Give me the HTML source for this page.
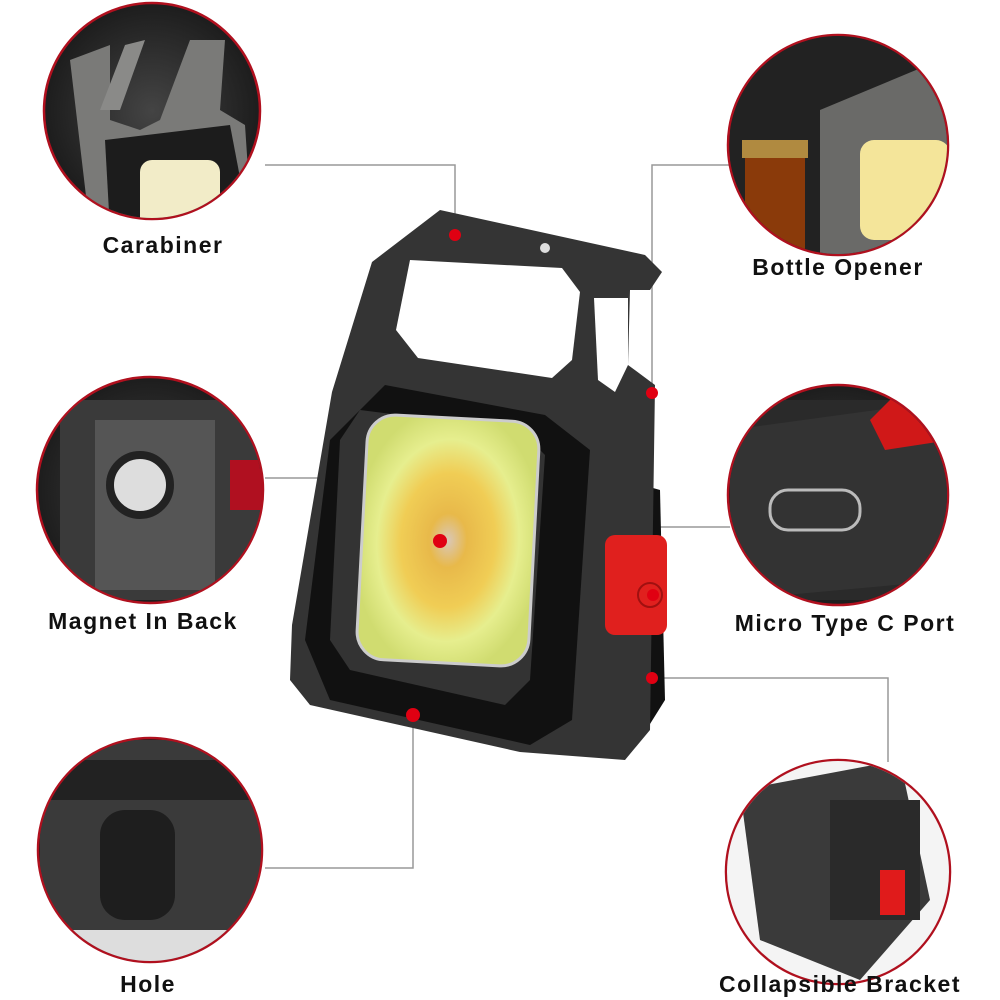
<!DOCTYPE html>
<html><head><style>
body{margin:0;width:1000px;height:1000px;background:#fff;overflow:hidden;position:relative;font-family:"Liberation Sans",sans-serif}
.l{position:absolute;font-size:23px;font-weight:bold;letter-spacing:1.5px;color:#111;white-space:nowrap;transform:translateX(-50%)}
</style></head><body>
<svg width="1000" height="1000" style="position:absolute;left:0;top:0">
<defs>
<radialGradient id="g" cx="50%" cy="50%" r="60%"><stop offset="0" stop-color="#444"/><stop offset="1" stop-color="#151515"/></radialGradient>
<radialGradient id="led" cx="50%" cy="50%" r="55%"><stop offset="0" stop-color="#d9c7b8"/><stop offset=".2" stop-color="#e8b94a"/><stop offset=".5" stop-color="#f0cd55"/><stop offset=".75" stop-color="#e6ee8e"/><stop offset="1" stop-color="#d0dc70"/></radialGradient>
<clipPath id="c1"><circle cx="152" cy="111" r="107"/></clipPath>
<clipPath id="c2"><circle cx="838" cy="145" r="109"/></clipPath>
<clipPath id="c3"><circle cx="150" cy="490" r="112"/></clipPath>
<clipPath id="c4"><circle cx="838" cy="495" r="109"/></clipPath>
<clipPath id="c5"><circle cx="150" cy="850" r="111"/></clipPath>
<clipPath id="c6"><circle cx="838" cy="872" r="111"/></clipPath>
</defs>
<g stroke="#999" stroke-width="1.5" fill="none">
<polyline points="455,235 455,165 265,165"/>
<polyline points="652,392 652,165 730,165"/>
<polyline points="440,540 440,478 265,478"/>
<polyline points="652,595 660,527 730,527"/>
<polyline points="652,678 888,678 888,762"/>
<polyline points="413,715 413,868 265,868"/>
</g>
<g stroke="#b0101e" stroke-width="2.5" fill="url(#g)">
<circle cx="152" cy="111" r="108"/>
<circle cx="838" cy="145" r="110"/>
<circle cx="150" cy="490" r="113"/>
<circle cx="838" cy="495" r="110"/>
<circle cx="150" cy="850" r="112"/>
<circle cx="838" cy="872" r="112"/>
</g>
<g clip-path="url(#c1)">
<polygon points="70,60 110,45 110,120 140,130 160,120 190,40 225,40 220,110 245,125 250,200 90,230" fill="#7a7a78"/>
<polygon points="125,45 145,40 120,110 100,110" fill="#8a8a88"/>
<polygon points="105,140 230,125 250,230 110,230" fill="#1c1c1c"/>
<rect x="140" y="160" width="80" height="70" rx="12" fill="#f2ecc8"/>
</g>
<g clip-path="url(#c2)">
<rect x="730" y="30" width="220" height="230" fill="#222"/>
<polygon points="820,110 940,60 960,260 820,260" fill="#6a6a68"/>
<rect x="860" y="140" width="90" height="100" rx="14" fill="#f4e59a"/>
<rect x="745" y="150" width="60" height="110" fill="#8a3a0a"/>
<rect x="742" y="140" width="66" height="18" fill="#b08a40"/>
</g>
<g clip-path="url(#c3)">
<rect x="60" y="400" width="200" height="200" fill="#3a3a3a"/>
<rect x="95" y="420" width="120" height="170" fill="#555"/>
<circle cx="140" cy="485" r="30" fill="#ddd" stroke="#222" stroke-width="8"/>
<rect x="230" y="460" width="40" height="50" fill="#b01020"/>
</g>
<g clip-path="url(#c4)">
<rect x="730" y="400" width="220" height="200" fill="#2a2a2a"/>
<polygon points="730,430 950,400 950,580 730,600" fill="#333"/>
<rect x="770" y="490" width="90" height="40" rx="18" fill="#333" stroke="#bbb" stroke-width="3"/>
<polygon points="870,420 900,390 950,400 950,440 885,450" fill="#d01818"/>
</g>
<g clip-path="url(#c5)">
<rect x="40" y="740" width="230" height="220" fill="#3a3a3a"/>
<rect x="40" y="760" width="230" height="40" fill="#222"/>
<rect x="100" y="810" width="75" height="110" rx="25" fill="#1e1e1e"/>
<rect x="40" y="930" width="230" height="40" fill="#ddd"/>
</g>
<g clip-path="url(#c6)">
<rect x="725" y="760" width="230" height="230" fill="#f4f4f4"/>
<polygon points="740,790 900,760 930,900 860,980 760,940" fill="#3a3a3a"/>
<rect x="830" y="800" width="90" height="120" fill="#2a2a2a"/>
<rect x="880" y="870" width="25" height="45" fill="#e01b1b"/>
</g>
<!-- bracket -->
<polygon points="625,480 660,490 665,700 640,740 615,735" fill="#111"/>
<!-- body -->
<polygon points="440,210 645,255 662,272 650,290 630,290 628,365 655,385 650,730 625,760 520,752 310,705 290,680 292,625 332,392 372,262" fill="#343434"/>
<polygon points="410,260 562,268 580,292 572,360 552,378 418,358 396,330" fill="#fff"/>
<polygon points="594,298 628,298 628,365 615,392 598,380" fill="#fff"/>
<polygon points="385,385 545,415 590,450 572,720 530,745 330,700 305,640 330,440" fill="#111"/>
<polygon points="360,410 520,430 545,455 530,680 505,705 350,670 330,640 340,440" fill="#333"/>
<rect x="362" y="418" width="172" height="245" rx="28" fill="url(#led)" transform="rotate(3 448 540)" stroke="#ccc" stroke-width="3"/>
<rect x="605" y="535" width="62" height="100" rx="10" fill="#e0201e"/>
<circle cx="650" cy="595" r="12" fill="none" stroke="#a01010" stroke-width="2"/>
<g fill="#e00012">
<circle cx="455" cy="235" r="6"/><circle cx="652" cy="393" r="6"/><circle cx="440" cy="541" r="7"/>
<circle cx="653" cy="595" r="6"/><circle cx="652" cy="678" r="6"/><circle cx="413" cy="715" r="7"/>
</g>
<circle cx="545" cy="248" r="5" fill="#ddd"/>
</svg>
<div class="l" style="left:163px;top:232px">Carabiner</div>
<div class="l" style="left:838px;top:254px">Bottle Opener</div>
<div class="l" style="left:143px;top:608px">Magnet In Back</div>
<div class="l" style="left:845px;top:610px">Micro Type C Port</div>
<div class="l" style="left:148px;top:971px">Hole</div>
<div class="l" style="left:840px;top:971px">Collapsible Bracket</div>
</body></html>
